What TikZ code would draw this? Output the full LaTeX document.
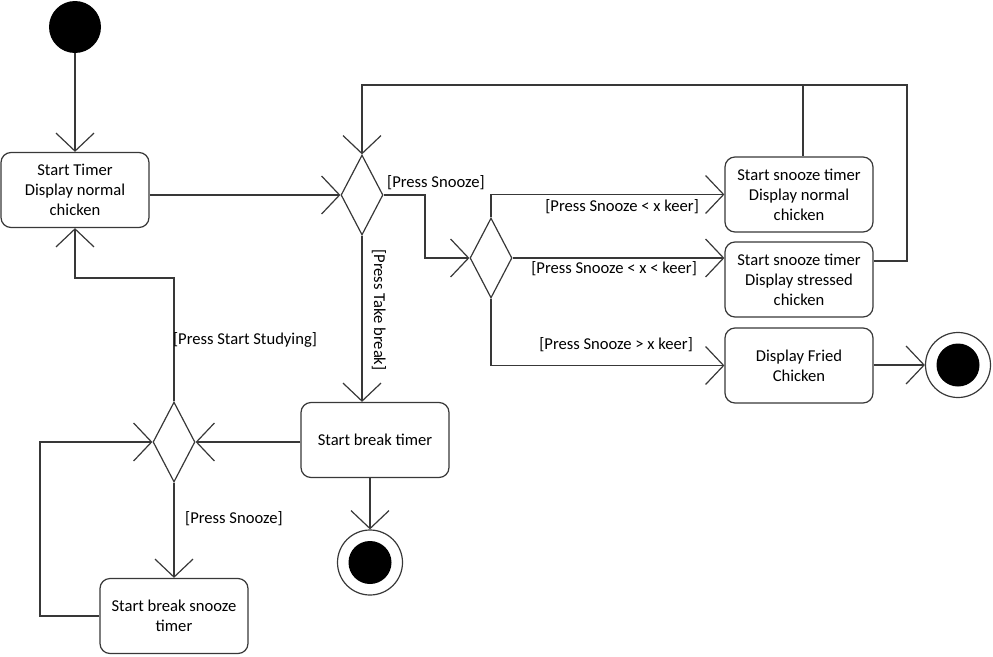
\documentclass[tikz,border=0pt]{standalone}
\usepackage{fontspec}
\setmainfont{Carlito}
\usetikzlibrary{arrows.meta,shapes.geometric}
\begin{document}
\begin{tikzpicture}[x=1pt,y=-1pt,
  every node/.style={font=\fontsize{16.6}{20}\selectfont, text=black},
  line/.style={draw=black!78, line width=1.2pt},
  arr/.style={line, -{Straight Barb[length=18pt,width=38pt]}},
  act/.style={line, rectangle, rounded corners=10pt, minimum width=148pt,
    minimum height=75pt, align=center, inner sep=2pt},
  dec/.style={line, diamond, minimum width=42pt, minimum height=80pt, inner sep=0pt},
  lbl/.style={inner sep=0pt}]
\useasboundingbox (0,0) rectangle (993,656);

% states and decisions
\node[circle, fill=black, minimum size=52pt, inner sep=0pt] (init) at (75,27) {};
\node[act] (start) at (75,190) {Start Timer\\Display normal\\chicken};
\node[dec] (d1) at (362,195) {};
\node[dec] (d2) at (491,258) {};
\node[act] (snz1) at (799,194.5) {Start snooze timer\\Display normal\\chicken};
\node[act] (snz2) at (799,279.5) {Start snooze timer\\Display stressed\\chicken};
\node[act] (fried) at (799,365.5) {Display Fried\\Chicken};
\node[line, circle, minimum size=65pt, inner sep=0pt] (fin1) at (958,365) {};
\node[circle, fill=black, minimum size=43pt, inner sep=0pt] (fin1dot) at (fin1) {};
\node[act] (brk) at (375,440) {Start break timer};
\node[line, circle, minimum size=65pt, inner sep=0pt] (fin2) at (370,562.5) {};
\node[circle, fill=black, minimum size=43pt, inner sep=0pt] (fin2dot) at (fin2) {};
\node[dec] (d3) at (174,442) {};
\node[act] (bsnz) at (174,616) {Start break snooze\\timer};

% routing points
\coordinate (topR) at (907,85);
\coordinate (topM) at (803,85);
\coordinate (retR) at (907,261);
\coordinate (e1) at (425,230);
\coordinate (e3) at (75,278);
\coordinate (e4) at (40,500);

% connectors
\draw[arr] (init) -- (start);
\draw[arr] (start.east |- d1.west) -- (d1.west);
\draw[arr] (snz2.east |- retR) -- (retR) -- (topR) -- (d1.north |- topR) -- (d1.north);
\draw[line] (topM) -- (topM |- snz1.north);
\draw[arr] (d1.east) -| (e1) |- (d2.west);
\draw[arr] (d2.north) |- (snz1.west);
\draw[arr] (d2.east) -- (snz2.west |- d2.east);
\draw[arr] (d2.south) |- (fried.west);
\draw[arr] (fried.east |- fin1.west) -- (fin1.west);
\draw[arr] (d1.south) -- (d1.south |- brk.north);
\draw[arr] (fin2.north |- brk.south) -- (fin2.north);
\draw[arr] (brk.west |- d3.east) -- (d3.east);
\draw[arr] (d3.north) |- (e3) -- (e3 |- start.south);
\draw[arr] (d3.south) -- (bsnz.north);
\draw[arr] (bsnz.west) -| (e4) |- (d3.west);

% guards
\node[lbl, anchor=west] (gSnooze) at (387,183) {[Press Snooze]};
\node[lbl, rotate=-90] (gBreak) at (379,310) {[Press Take break]};
\node[lbl, anchor=east] (gLess) at (699,207) {[Press Snooze < x keer]};
\node[lbl, anchor=east] (gMid) at (697,269) {[Press Snooze < x < keer]};
\node[lbl, anchor=east] (gMore) at (693,345) {[Press Snooze > x keer]};
\node[lbl] (gStudy) at (245,340) {[Press Start Studying]};
\node[lbl, anchor=west] (gBSnooze) at (185,519) {[Press Snooze]};
\end{tikzpicture}
\end{document}
